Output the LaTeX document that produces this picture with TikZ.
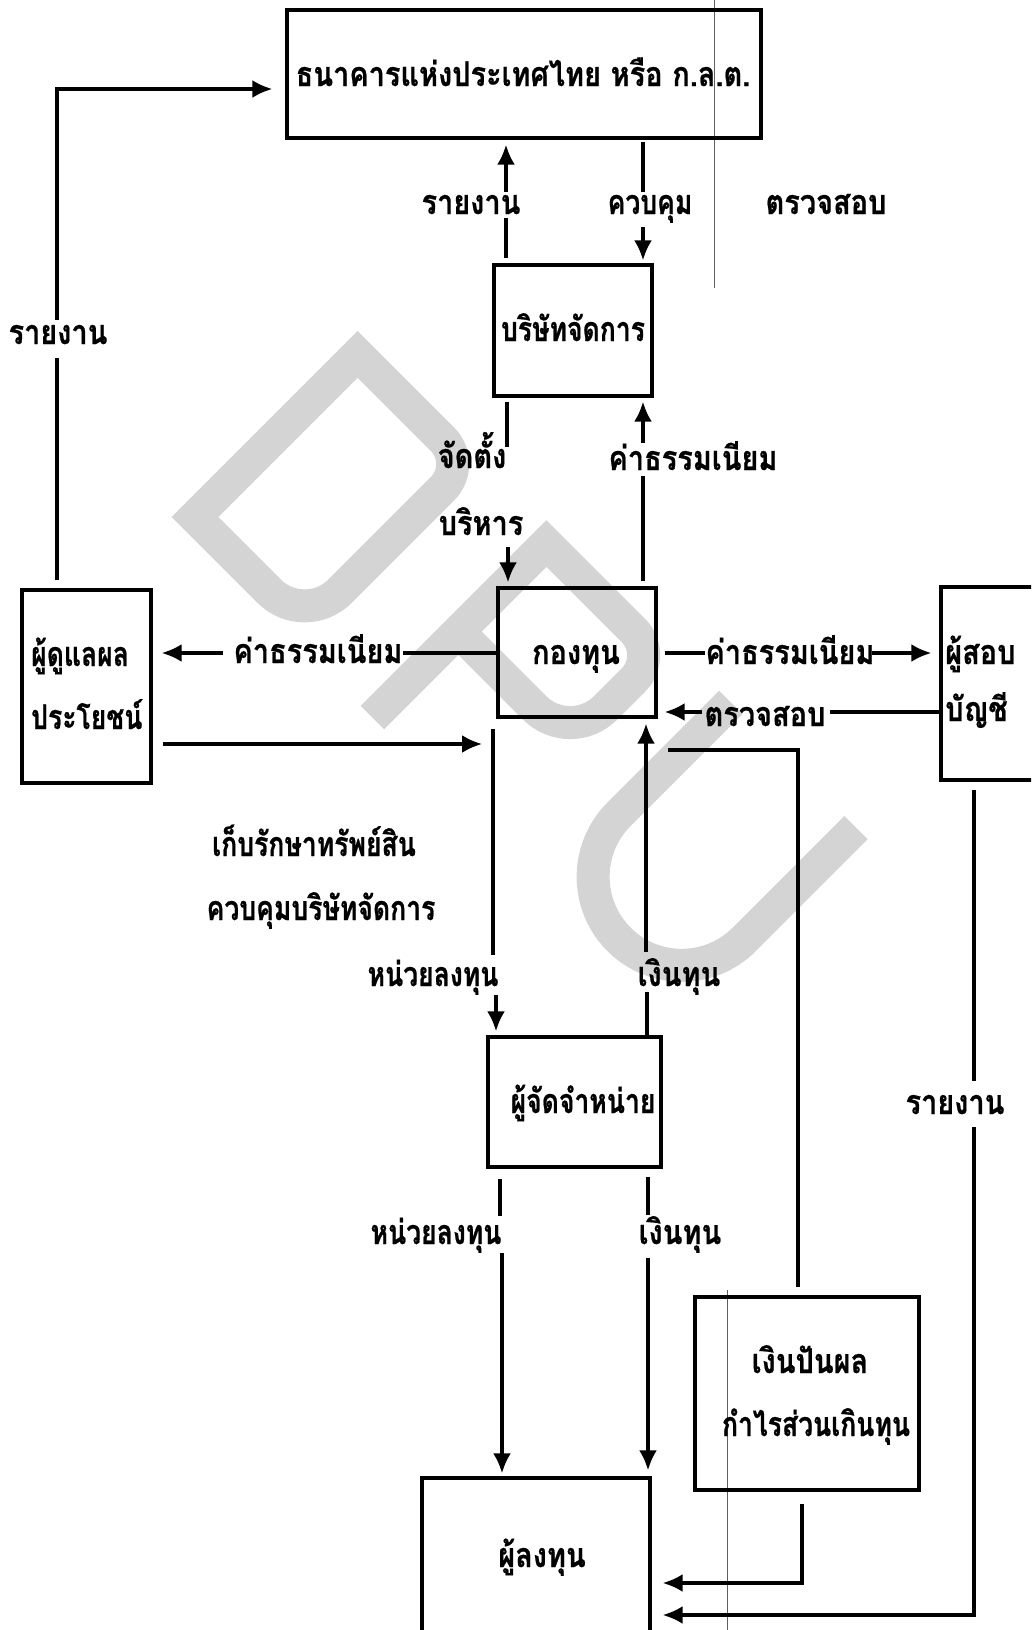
\documentclass[tikz,border=0pt]{standalone}
\usepackage{fontspec}
\newfontfamily\thai[Script=Thai, FakeStretch=0.85, FakeBold=0.6]{Loma}
\newfontfamily\thainarrow[Script=Thai, FakeStretch=0.78, FakeBold=0.6]{Loma}
\usetikzlibrary{arrows.meta,calc}
\definecolor{wmgray}{RGB}{212,212,212}
\definecolor{scanline}{RGB}{95,95,95}
\tikzset{
  box/.style={draw, line width=3.4pt, inner sep=0pt},
  ln/.style={line width=3.2pt},
  arr/.style={ln, -{Latex[length=20pt,width=18pt]}},
  lbl/.style={font=\thai\bfseries\fontsize{34}{36}\selectfont, inner sep=0pt, text height=18pt, text depth=0pt},
  tight/.style={lbl, font=\thainarrow\bfseries\fontsize{34}{36}\selectfont},
  wm/.style={draw=wmgray, line width=33pt, line join=miter},
}
\begin{document}
\begin{tikzpicture}[x=1pt,y=-1pt]
\path[use as bounding box, clip] (0,0) rectangle (1031,1630);

% watermark letters D, P, U
\begin{scope}[shift={(195,517)}, rotate=-45]
  \draw[wm] (0,0) -- (0,-230) -- (120,-230)
    .. controls (139.3,-230) and (155,-214.3) .. (155,-195) -- (155,-50)
    .. controls (155,-22.4) and (132.6,0) .. (105,0) -- cycle;
\end{scope}
\begin{scope}[shift={(372.5,717.5)}, rotate=-45]
  \draw[wm] (0,0) -- (0,-246) -- (123,-246)
    .. controls (142.3,-246) and (158,-230.3) .. (158,-211) -- (158,-171.5)
    .. controls (158,-143.9) and (135.6,-121.5) .. (108,-121.5) -- (0,-121.5);
\end{scope}
\begin{scope}[shift={(730.8,702.5)}, rotate=-45]
  \draw[wm] (0,0) -- (0,158)
    .. controls (0,206.9) and (39.6,246.5) .. (88.5,246.5)
    .. controls (137.4,246.5) and (177,206.9) .. (177,158) -- (177,0);
\end{scope}

% thin scan lines
\draw[scanline, line width=1pt] (714,0) -- (714,288);
\draw[scanline, line width=1pt] (727,1290) -- (727,1630);

% boxes
\node[box, minimum width=474pt, minimum height=128pt] (bank) at (524,74) {};
\node[box, minimum width=158pt, minimum height=131pt] (bmc) at (573,330.5) {};
\node[box, minimum width=158pt, minimum height=129pt] (fund) at (577,652.5) {};
\node[box, minimum width=129pt, minimum height=193pt] (trustee) at (86.5,686.5) {};
\node[box, minimum width=104pt, minimum height=193pt] (aud) at (993,683.5) {};
\node[box, minimum width=173pt, minimum height=130pt] (dist) at (574.5,1102) {};
\node[box, minimum width=224pt, minimum height=193pt] (div) at (807,1393.5) {};
\node[box, minimum width=228pt, minimum height=202pt] (inv) at (536,1579) {};

% box texts
\node[lbl] (bankt) at (523,77) {ธนาคารแห่งประเทศไทย หรือ ก.ล.ต.};
\node[tight] (bmct) at (573,332) {บริษัทจัดการ};
\node[lbl] (fundt) at (576,655) {กองทุน};
\node[tight, anchor=west] (trt1) at (31,657) {ผู้ดูแลผล};
\node[tight, anchor=west] (trt2) at (31,720) {ประโยชน์};
\node[lbl, anchor=west] (audt1) at (945,655) {ผู้สอบ};
\node[lbl, anchor=west] (audt2) at (945,712) {บัญชี};
\node[tight] (distt) at (583,1104) {ผู้จัดจำหน่าย};
\node[lbl] (divt1) at (810,1364) {เงินปันผล};
\node[tight] (divt2) at (816,1427) {กำไรส่วนเกินทุน};
\node[lbl] (invt) at (542,1558) {ผู้ลงทุน};

% connector labels
\node[lbl] (repL) at (58,335) {รายงาน};
\node[lbl] (repT) at (471,205) {รายงาน};
\node[tight] (ctl) at (650,205) {ควบคุม};
\node[lbl] (chk) at (826,205) {ตรวจสอบ};
\node[lbl] (est) at (472,459) {จัดตั้ง};
\node[lbl] (adm) at (481,526) {บริหาร};
\node[lbl] (feeU) at (693,461) {ค่าธรรมเนียม};
\node[lbl] (feeL) at (318,654) {ค่าธรรมเนียม};
\node[lbl] (feeR) at (790,655) {ค่าธรรมเนียม};
\node[lbl] (chk2) at (765,717) {ตรวจสอบ};
\node[tight] (keep1) at (314,847) {เก็บรักษาทรัพย์สิน};
\node[tight] (keep2) at (321,911) {ควบคุมบริษัทจัดการ};
\node[tight] (unit1) at (433,977) {หน่วยลงทุน};
\node[lbl] (cap1) at (679,977) {เงินทุน};
\node[lbl] (repR) at (955,1105) {รายงาน};
\node[tight] (unit2) at (436,1235) {หน่วยลงทุน};
\node[lbl] (cap2) at (680,1235) {เงินทุน};

% trustee reports to the regulator
\coordinate (tlA) at (57,358); \coordinate (tlB) at (57,320); \coordinate (tlC) at (57,89);
\draw[ln, shorten <=8pt] (trustee.north -| tlA) -- (tlA);
\draw[arr, shorten >=13pt] (tlB) -- (tlC) -- (bank.west |- tlC);

% management company reports up
\coordinate (rA) at (506,218); \coordinate (rB) at (506,192);
\draw[ln, shorten <=5pt] (bmc.north -| rA) -- (rA);
\draw[arr, shorten >=5pt] (rB) -- (bank.south -| rB);

% regulator controls management company
\coordinate (cA) at (643,192); \coordinate (cB) at (643,227);
\draw[ln, shorten <=2pt] (bank.south -| cA) -- (cA);
\draw[arr, shorten >=3pt] (cB) -- (bmc.north -| cB);

% management company sets up and runs the fund
\coordinate (eA) at (507,447); \coordinate (eB) at (508,547);
\draw[ln, shorten <=4pt] (bmc.south -| eA) -- (eA);
\draw[arr, shorten >=4pt] (eB) -- (fund.north -| eB);

% fee to management company
\coordinate (fA) at (643,476); \coordinate (fB) at (643,443);
\draw[ln, shorten <=5pt] (fund.north -| fA) -- (fA);
\draw[arr, shorten >=4pt] (fB) -- (bmc.south -| fB);

% fee to trustee
\coordinate (flA) at (403,653); \coordinate (flB) at (223,653);
\draw[ln] (fund.west |- flA) -- (flA);
\draw[arr, shorten >=9pt] (flB) -- (trustee.east |- flB);

% fee to auditor
\coordinate (frA) at (705,653); \coordinate (frB) at (872,653);
\draw[ln, shorten <=7pt] (fund.east |- frA) -- (frA);
\draw[arr, shorten >=8pt] (frB) -- (aud.west |- frB);

% auditor checks the fund
\coordinate (aA) at (830,712); \coordinate (aB) at (702,712);
\draw[ln] (aud.west |- aA) -- (aA);
\draw[arr, shorten >=7pt] (aB) -- (fund.east |- aB);

% trustee safekeeping
\coordinate (tA) at (482,744);
\draw[arr, shorten <=10pt] (trustee.east |- tA) -- (tA);

% units from fund to distributor
\coordinate (uB) at (493,955); \coordinate (uC) at (496,995);
\draw[ln, shorten <=10pt] (fund.south -| uB) -- (uB);
\draw[arr, shorten >=4pt] (uC) -- (dist.north -| uC);

% capital from distributor to fund
\coordinate (kA) at (647,992); \coordinate (kB) at (646,952);
\draw[ln] (dist.north -| kA) -- (kA);
\draw[arr, shorten >=5pt] (kB) -- (fund.south -| kB);

% dividend link
\coordinate (dA) at (668,750); \coordinate (dB) at (798,750);
\draw[ln, shorten >=8pt] (dA) -- (dB) -- (div.north -| dB);

% auditor report to investor
\coordinate (rrA) at (974,1081); \coordinate (rrB) at (974,1127); \coordinate (rrC) at (974,1615);
\draw[ln, shorten <=8pt] (aud.south -| rrA) -- (rrA);
\draw[arr, shorten >=11pt] (rrB) -- (rrC) -- (inv.east |- rrC);

% distributor to investor: units
\coordinate (dlA) at (500,1216); \coordinate (dlB) at (502,1253);
\draw[ln, shorten <=10pt] (dist.south -| dlA) -- (dlA);
\draw[arr, shorten >=3pt] (dlB) -- (inv.north -| dlB);

% distributor to investor: capital
\coordinate (drA) at (648,1215); \coordinate (drB) at (648,1258);
\draw[ln, shorten <=8pt] (dist.south -| drA) -- (drA);
\draw[arr, shorten >=6pt] (drB) -- (inv.north -| drB);

% dividends to investor
\coordinate (pA) at (802,1583);
\draw[arr, shorten <=12pt, shorten >=11pt] (div.south -| pA) -- (pA) -- (inv.east |- pA);
\end{tikzpicture}
\end{document}
